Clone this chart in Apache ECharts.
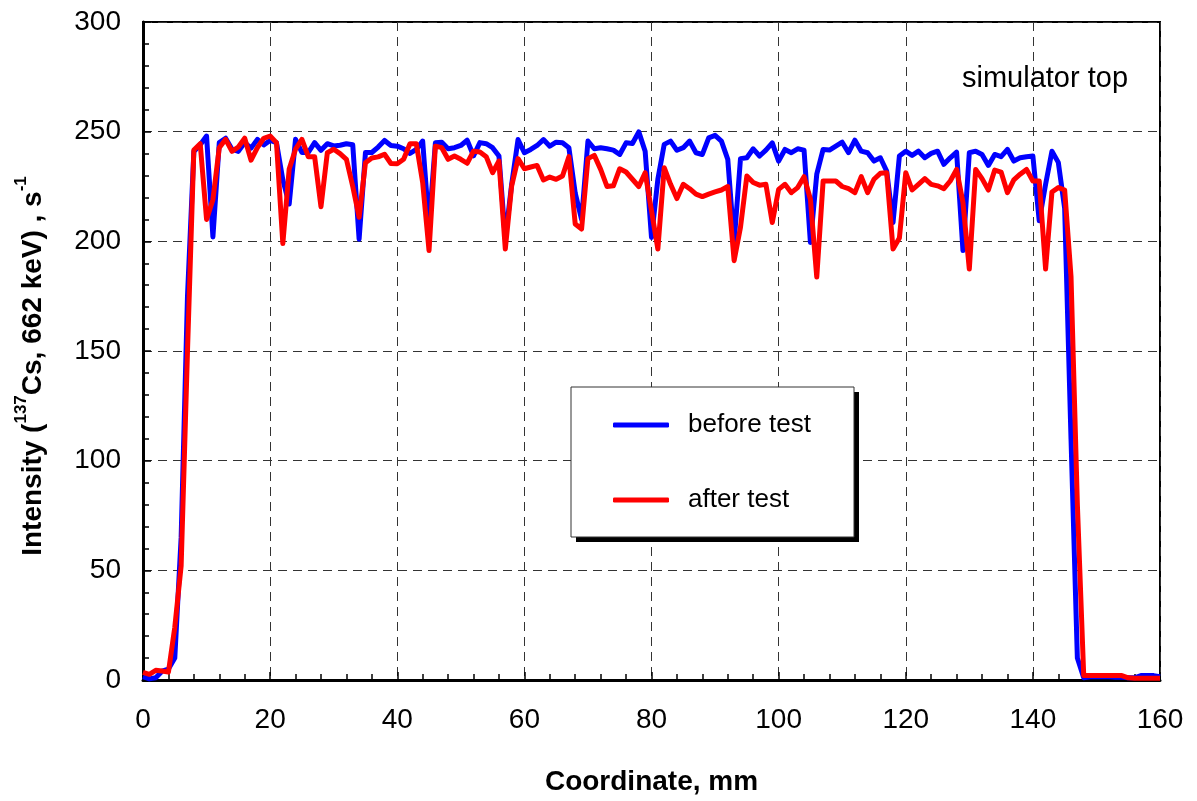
<!DOCTYPE html>
<html>
<head>
<meta charset="utf-8">
<script src="https://cdn.jsdelivr.net/npm/echarts@6/dist/echarts.min.js"></script>
<style>
html,body{margin:0;padding:0;background:#fff;}
#chart{width:1197px;height:801px;}
</style>
</head>
<body>
<div id="chart"></div>
<script>
// Coordinate, mm
var coordinates = [0,1,2,3,4,5,6,7,8,9,10,11,12,13,14,15,16,17,18,19,20,21,22,23,24,25,26,27,28,29,30,31,32,33,34,35,36,37,38,39,40,41,42,43,44,45,46,47,48,49,50,51,52,53,54,55,56,57,58,59,60,61,62,63,64,65,66,67,68,69,70,71,72,73,74,75,76,77,78,79,80,81,82,83,84,85,86,87,88,89,90,91,92,93,94,95,96,97,98,99,100,101,102,103,104,105,106,107,108,109,110,111,112,113,114,115,116,117,118,119,120,121,122,123,124,125,126,127,128,129,130,131,132,133,134,135,136,137,138,139,140,141,142,143,144,145,146,147,148,149,150,151,152,153,154,155,156,157,158,159,160];

// Intensity before test, s^-1
var beforeTest = [1.5,0.5,1,4,5,10,65,175,241,244,248,202,245,247,242,241,245,242.5,246.5,244,246,245,228,217,246.5,240.5,240.5,245,241.5,244.5,243.5,243.8,244.5,244,201,240.5,240.5,243,246,243.7,243.4,242.2,240.1,241.9,245.7,207,244.9,245.2,242.2,242.7,243.7,246.1,239,245,244.5,242.7,238.9,201,226,246.4,240.4,241.9,243.7,246.4,243.4,245.2,244.9,242.7,222,210,245.7,242.2,242.7,242.2,241.6,239.6,244.9,244.6,249.9,241.1,201.8,228.3,244.2,245.7,241.5,242.7,245.7,240.4,239.6,247.2,248.3,245.7,237.4,199.5,237.7,238.1,242.2,238.9,241.6,244.9,236.6,241.9,240.4,242.2,241.6,199.5,230.6,241.9,241.6,243.4,245.2,240.4,246.1,241.1,240.4,236.6,238.1,232,208.6,238.9,241.1,239.2,241.1,238.1,240.1,241.1,235.1,238.1,240.7,195.8,240.4,241.1,239.6,234.6,239.6,238.6,241.9,236.6,238.1,238.6,238.9,209.4,226,241.1,236,215,110,10,1,1.5,1.5,1.5,1.5,1.2,1.2,1,1,2,2,2,1.5];

// Intensity after test, s^-1
var afterTest = [3.5,2.6,4.4,4.1,3.6,24,52,150,241.6,244.5,210,219,242.7,246.5,241,243,247,237,242.7,247,248,245,199,233,242,246.5,238.6,238.6,215.8,240.4,242,240,237.4,225,211,235.8,238,238.5,239.7,235.5,235.4,237.4,244.5,244.5,226.8,195.8,243.4,242.7,237.4,238.9,237.4,235.6,241.1,240.7,238.6,231.3,236.6,196.5,225.3,237.7,233.1,233.9,234.6,228,229.3,228.3,229.8,238.6,207.9,205.6,237.7,239.2,232.8,225,225.3,233.1,231.6,228.3,225,231.3,214,196.5,233.6,226,219.5,226,224,221.5,220.4,221.5,222.5,223.4,225,191.2,206.4,229.8,226.8,225.6,226,208.6,223.7,226,222.2,224.5,229.5,219.2,183.7,227.5,227.5,227.5,225,224,222.2,229.5,222.2,228.3,231,231.3,196.5,201.5,231.3,223.4,226,228.6,226,225.3,224,227.5,232.8,217.7,187.4,232.8,228.6,223.4,232.5,231.6,222.2,228,230.6,232.8,227.5,227.5,187.4,222.5,224.5,223.4,184,80,2,2,2,2,2,2,2,1,0.8,0.8,0.8,0.8,0.8];

var seriesNames = ['before test', 'after test'];
var xTicks = {min: 0, max: 160, interval: 20};
var yTicks = {min: 0, max: 300, interval: 50};
var annotation = 'simulator top';

function pairs(xs, ys) {
  var out = [];
  for (var i = 0; i < xs.length; i++) out.push([xs[i], ys[i]]);
  return out;
}

var FONT = "'Liberation Sans', Arial, sans-serif";
var chart = echarts.init(document.getElementById('chart'), null, {renderer: 'canvas'});

chart.setOption({
  animation: false,
  backgroundColor: '#ffffff',
  textStyle: {fontFamily: FONT, color: '#000'},
  grid: {
    left: 143, right: 37, top: 22, bottom: 118,
    show: true, borderColor: '#000', borderWidth: 2, backgroundColor: 'transparent'
  },
  legend: {
    orient: 'vertical',
    left: 571, top: 387,
    padding: [23, 40, 21, 42],
    itemGap: 45,
    itemWidth: 56, itemHeight: 5,
    z: 20,
    backgroundColor: 'transparent',
    borderWidth: 0,
    textStyle: {fontFamily: FONT, fontSize: 26, color: '#000', lineHeight: 30, padding: [0, 0, 0, 14]},
    data: [
      {name: seriesNames[0], icon: 'roundRect'},
      {name: seriesNames[1], icon: 'roundRect'}
    ]
  },
  xAxis: {
    type: 'value',
    min: xTicks.min, max: xTicks.max, interval: xTicks.interval,
    name: 'Coordinate, mm',
    nameLocation: 'middle', nameGap: 88,
    nameTextStyle: {fontFamily: FONT, fontSize: 28, fontWeight: 'bold', color: '#000'},
    axisLine: {show: true, onZero: false, lineStyle: {color: '#000', width: 3}},
    axisTick: {show: true, inside: true, length: 8, lineStyle: {color: '#000', width: 1.5}},
    minorTick: {show: true, splitNumber: 5, length: 6, lineStyle: {color: '#000', width: 1.5}},
    axisLabel: {fontFamily: FONT, fontSize: 28, color: '#000', margin: 26, showMinLabel: true, showMaxLabel: true},
    splitLine: {show: true, lineStyle: {color: '#333', width: 1, type: [9, 6]}}
  },
  yAxis: {
    type: 'value',
    min: yTicks.min, max: yTicks.max, interval: yTicks.interval,
    name: '{b|Intensity (}{s|137}{b|Cs, 662 keV) , s}{s|-1}',
    nameLocation: 'middle', nameGap: 96, nameRotate: 90,
    nameTextStyle: {
      padding: [0, 30, 0, 0],
      rich: {
        b: {fontFamily: FONT, fontSize: 28, fontWeight: 'bold', color: '#000', lineHeight: 34, verticalAlign: 'bottom'},
        s: {fontFamily: FONT, fontSize: 17, fontWeight: 'bold', color: '#000', lineHeight: 34, verticalAlign: 'top'}
      }
    },
    axisLine: {show: true, lineStyle: {color: '#000', width: 3}},
    axisTick: {show: true, inside: true, length: 8, lineStyle: {color: '#000', width: 1.5}},
    minorTick: {show: true, splitNumber: 5, length: 6, lineStyle: {color: '#000', width: 1.5}},
    axisLabel: {fontFamily: FONT, fontSize: 28, color: '#000', margin: 22},
    splitLine: {show: true, lineStyle: {color: '#333', width: 1, type: [9, 6]}}
  },
  graphic: [
    {
      type: 'rect', z: 10,
      shape: {x: 576, y: 392, width: 283, height: 150},
      style: {fill: '#000', stroke: null}
    },
    {
      type: 'rect', z: 11,
      shape: {x: 571, y: 387, width: 283, height: 150},
      style: {fill: '#fff', stroke: '#333', lineWidth: 1}
    },
    {
      type: 'text', z: 11,
      left: 962, top: 64,
      style: {text: annotation, font: '29px ' + FONT, fill: '#000'}
    }
  ],
  series: [
    {
      name: seriesNames[0], type: 'line', data: pairs(coordinates, beforeTest),
      showSymbol: false, symbol: 'none',
      color: '#0000ff',
      lineStyle: {color: '#0000ff', width: 5, join: 'round'}
    },
    {
      name: seriesNames[1], type: 'line', data: pairs(coordinates, afterTest),
      showSymbol: false, symbol: 'none',
      color: '#ff0000',
      lineStyle: {color: '#ff0000', width: 5, join: 'round'}
    }
  ]
});
</script>
</body>
</html>
